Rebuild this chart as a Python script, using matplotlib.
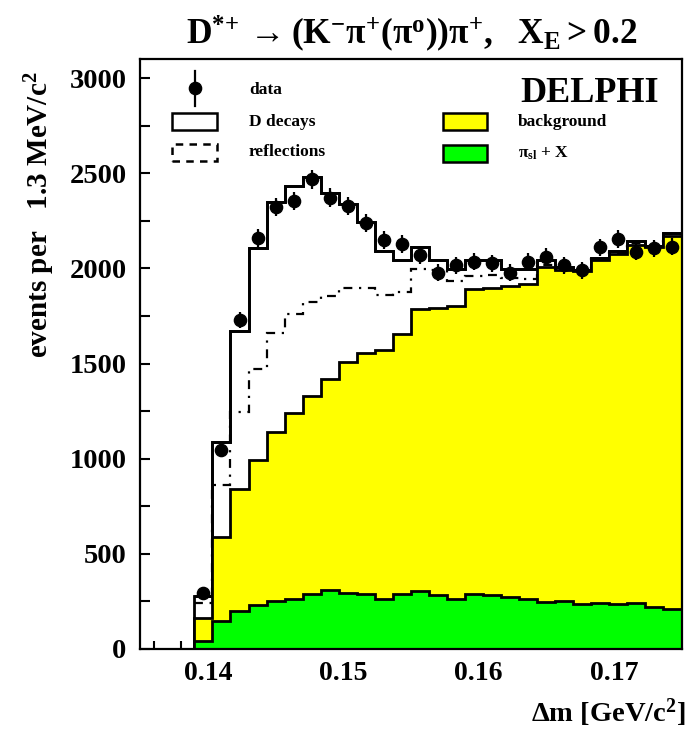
import numpy as np
import matplotlib
matplotlib.use('Agg')
import matplotlib.pyplot as plt
from matplotlib.patches import Rectangle
from matplotlib.lines import Line2D

plt.rcParams['font.family'] = ['Liberation Serif', 'DejaVu Serif']
plt.rcParams['font.weight'] = 'bold'
plt.rcParams['mathtext.fontset'] = 'custom'
plt.rcParams['mathtext.rm'] = 'Liberation Serif:bold'
plt.rcParams['mathtext.it'] = 'Liberation Serif:bold'
plt.rcParams['mathtext.bf'] = 'Liberation Serif:bold'
plt.rcParams['mathtext.sf'] = 'Liberation Serif:bold'

# ---- data (bins of 1.333 MeV from 0.135 to 0.175; first 3 bins empty) ----
x_min, x_max, n_bins = 0.135, 0.175, 30
first_bin = 3

data = [294, 1045, 1728, 2161, 2324, 2354, 2469, 2371, 2329, 2240, 2149, 2128, 2070,
        1977, 2017, 2035, 2026, 1977, 2035, 2061, 2017, 1991, 2110, 2154, 2087, 2105, 2114]
total = [278, 1086, 1672, 2108, 2347, 2433, 2478, 2396, 2336, 2242, 2093, 2044, 2110,
         2044, 1995, 2044, 2044, 1995, 1995, 2044, 2005, 1991, 2053, 2093, 2144, 2117, 2184]
reflections = [242, 862, 1243, 1469, 1659, 1759, 1822, 1856, 1895, 1895, 1860, 1874, 1995,
               1990, 1935, 1960, 1965, 1950, 1945, 2020, 1995, 1988, 2048, 2083, 2133, 2110, 2178]
background = [165, 590, 839, 993, 1138, 1238, 1329, 1419, 1510, 1555, 1573, 1657, 1788,
              1790, 1800, 1890, 1895, 1907, 1916, 2005, 1991, 1986, 2044, 2075, 2123, 2110, 2172]
pi_sl = [42, 147, 198, 231, 251, 263, 289, 310, 292, 288, 262, 288, 303,
         285, 265, 289, 284, 271, 261, 245, 252, 235, 243, 235, 243, 222, 212]

x_major = [0.14, 0.15, 0.16, 0.17]
x_labels = ['0.14', '0.15', '0.16', '0.17']
y_major = [0, 500, 1000, 1500, 2000, 2500, 3000]
y_labels = ['0', '500', '1000', '1500', '2000', '2500', '3000']

edges = np.linspace(x_min, x_max, n_bins + 1)[first_bin:]
centers = 0.5 * (edges[:-1] + edges[1:])
data_arr = np.array(data, dtype=float)
err = np.sqrt(data_arr)

W, H = 699, 738
fig = plt.figure(figsize=(W / 100, H / 100), dpi=100)

def fx(x):
    return x / W

def fy(y):
    return 1 - y / H

ax_l, ax_r, ax_t, ax_b = 140.3, 681.5, 59, 649
ax = fig.add_axes([fx(ax_l), fy(ax_b), (ax_r - ax_l) / W, (ax_b - ax_t) / H])

lw_h = 2.0
ax.stairs(total, edges, fill=True, facecolor='white', edgecolor='black', linewidth=lw_h, zorder=1)
ax.stairs(total, edges, fill=False, color='black', linewidth=lw_h, baseline=None, zorder=1.1)
ax.stairs(background, edges, fill=True, facecolor='#FFFF00', edgecolor='none', zorder=2)
ax.stairs(background, edges, fill=False, color='black', linewidth=lw_h, zorder=2.1)
ax.stairs(pi_sl, edges, fill=True, facecolor='#00FF00', edgecolor='none', zorder=3)
ax.stairs(pi_sl, edges, fill=False, color='black', linewidth=lw_h, zorder=3.1)
ax.stairs(reflections, edges, fill=False, color='black', linewidth=1.6, linestyle=(0, (4, 3, 1, 3)),
          baseline=None, zorder=4)
ax.errorbar(centers, data_arr, yerr=err, fmt='o', color='black', markersize=8.8,
            elinewidth=1.6, capsize=0, zorder=5)

ax.set_xlim(x_min, x_max)
ax.set_ylim(0, 3100)
ax.set_xticks(x_major)
ax.set_xticklabels(x_labels)
ax.set_xticks(np.arange(0.136, 0.1751, 0.002), minor=True)
ax.set_yticks(y_major)
ax.set_yticklabels(y_labels)
ax.set_yticks(np.arange(250, 3100, 500), minor=True)
ax.tick_params(axis='x', which='major', direction='in', length=11, width=1.5, labelsize=20, pad=9,
               top=False)
ax.tick_params(axis='x', which='minor', direction='in', length=5.5, width=1.5, top=False)
ax.tick_params(axis='y', which='major', direction='in', length=7.5, width=1.5, labelsize=20.5, pad=10,
               right=False)
ax.tick_params(axis='y', which='minor', direction='in', length=7, width=1.5, right=False)
for lab in ax.get_xticklabels() + ax.get_yticklabels():
    lab.set_fontweight('bold')
for sp in ax.spines.values():
    sp.set_linewidth(1.6)
    sp.set_zorder(6)

# Title and axis labels
fig.text(fx(412), fy(34), r'$\mathrm{D^{*\!+}\rightarrow(K^{-}\pi^{+}(\pi^{o}))\pi^{+},\ \ X_{E}>0.2}$',
         ha='center', va='center', fontsize=25.5)
fig.text(fx(40), fy(215), r'events per   1.3 MeV/c$^{2}$', rotation=90, ha='center', va='center',
         fontsize=21, fontweight='bold')
fig.text(fx(685), fy(713), r'$\Delta$m [GeV/c$^{2}$]', ha='right', va='center', fontsize=20.5,
         fontweight='bold')

# Legend
fig.add_artist(Line2D([fx(195), fx(195)], [fy(71), fy(106)], color='black', lw=1.6))
fig.add_artist(Line2D([fx(195)], [fy(88)], marker='o', color='black', markersize=8.8))
fig.text(fx(249), fy(90), 'data', ha='left', va='center', fontsize=12.5, fontweight='bold')

fig.add_artist(Rectangle((fx(172), fy(130)), (217 - 172) / W, (130 - 113) / H, facecolor='white',
                         edgecolor='black', lw=1.8, transform=fig.transFigure))
fig.text(fx(249), fy(122), 'D decays', ha='left', va='center', fontsize=12.5, fontweight='bold')

fig.add_artist(Rectangle((fx(172), fy(161)), (217 - 172) / W, (161 - 144) / H, facecolor='none',
                         edgecolor='black', lw=1.8, linestyle=(0, (3, 2.5)), transform=fig.transFigure))
fig.text(fx(249), fy(152), 'reflections', ha='left', va='center', fontsize=12.5, fontweight='bold')

fig.add_artist(Rectangle((fx(443), fy(130)), (487 - 443) / W, (130 - 113) / H, facecolor='#FFFF00',
                         edgecolor='black', lw=1.8, transform=fig.transFigure))
fig.text(fx(518), fy(122), 'background', ha='left', va='center', fontsize=12.5, fontweight='bold')

fig.add_artist(Rectangle((fx(443), fy(162)), (487 - 443) / W, (162 - 145) / H, facecolor='#00FF00',
                         edgecolor='black', lw=1.8, transform=fig.transFigure))
fig.text(fx(518), fy(153), r'$\mathrm{\pi_{sl}}$ + X', ha='left', va='center', fontsize=12.5,
         fontweight='bold')

fig.text(fx(659), fy(93), 'DELPHI', ha='right', va='center', fontsize=26, fontweight='bold')

fig.savefig('out.png', dpi=100)
